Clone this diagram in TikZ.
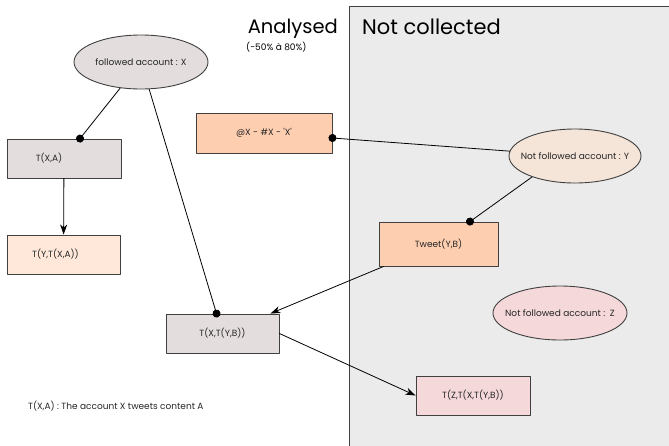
\documentclass[tikz,border=0pt]{standalone}
\usepackage{fontspec}
\newfontfamily\gothic{Poppins}
\usetikzlibrary{arrows.meta,shapes.geometric}

\begin{document}
\begin{tikzpicture}[x=1pt,y=-1pt,>=Stealth,line cap=round,line join=round,
    box/.style={draw=boxline,line width=0.9pt,minimum width=114pt,minimum height=39pt,inner sep=0pt,text=black!85,font=\gothic\fontsize{9}{10}\selectfont},
    account/.style={ellipse,draw=boxline,line width=0.9pt,minimum width=134pt,minimum height=54pt,inner xsep=-30pt,inner ysep=0pt,text=black!85,font=\gothic\fontsize{9}{10}\selectfont},
    link/.style={line width=0.8pt},
    dotlink/.style={link,-{Circle[length=8pt]},shorten >=-4pt},
    arrlink/.style={link,-{Stealth[length=10pt,width=7pt,inset=3pt]}}]
    \definecolor{boxline}{HTML}{404040}
    \definecolor{areagray}{HTML}{EBEBEB}
    \definecolor{mauve}{HTML}{E3DDDD}
    \definecolor{peach}{HTML}{FECEB0}
    \definecolor{lightpeach}{HTML}{FFE8DA}
    \definecolor{beige}{HTML}{F5E4D8}
    \definecolor{rose}{HTML}{F4D8DA}
    
    \useasboundingbox (0,0) rectangle (669,445);
    
    % not collected area
    \fill[areagray] (349,6.5) rectangle (675,450);
    \draw[boxline,line width=0.9pt] (675,6.5) -- (349,6.5) -- (349,450);
    
    % titles
    \node[anchor=base east,inner sep=0pt,font=\gothic\fontsize{19.5}{22}\selectfont] (analysed) at (338,33.5) {Analysed};
    \node[anchor=west,inner sep=0pt,font=\gothic\fontsize{9}{10}\selectfont] (range) at (246,47) {(-50\% à 80\%)};
    \node[anchor=base west,inner sep=0pt,font=\gothic\fontsize{21}{24}\selectfont] (notcoll) at (362,34) {Not collected};
    
    % accounts
    \node[account,fill=mauve] (fx) at (141,62) {followed account : X};
    \node[account,fill=beige,minimum width=132pt] (ny) at (575,156) {Not followed account : Y};
    \node[account,fill=rose] (nz) at (560,313) {Not followed account :\ \ Z};
    
    % tweets
    \node[box,fill=mauve] (txa) at (64,158.5) {T(X,A)\hspace*{30pt}};
    \node[box,fill=lightpeach,minimum width=113pt] (tyx) at (63.5,254.5) {T(Y,T(X,A))\hspace*{16pt}};
    \node[box,fill=peach,minimum width=136pt,minimum height=40pt] (at) at (264,133) {@X - \#X - 'X'};
    \node[box,fill=peach,minimum width=119pt,minimum height=44pt] (tw) at (438.5,244) {Tweet(Y,B)};
    \node[box,fill=mauve,minimum width=113pt] (txy) at (222.5,333.5) {T(X,T(Y,B))};
    \node[box,fill=rose] (tz) at (473,395.5) {T(Z,T(X,T(Y,B))};
    
    % legend
    \node[anchor=west,inner sep=0pt,text=black!85,font=\gothic\fontsize{9}{10}\selectfont] (legend) at (28,406) {T(X,A) : The account X tweets content A};
    
    % links
    \draw[dotlink] (fx) -- ([xshift=16pt]txa.north);
    \draw[dotlink] (fx) -- ([xshift=-6pt]txy.north);
    \draw[arrlink] (txa) -- (tyx);
    \draw[dotlink] (ny) -- ([yshift=-5pt]at.east);
    \draw[dotlink] (ny.206) -- ([xshift=31.5pt]tw.north);
    \draw[arrlink] ([xshift=5pt]tw.south west) -- ([xshift=-9pt]txy.north east);
    \draw[arrlink] (txy.east) -- (tz.west);
\end{tikzpicture}
\end{document}
